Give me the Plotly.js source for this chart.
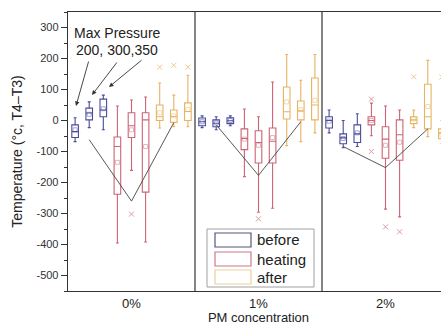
<!DOCTYPE html>
<html>
<head>
<meta charset="utf-8">
<script src="https://cdn.plot.ly/plotly-3.0.1.min.js"></script>
<style>
html,body{margin:0;padding:0;overflow:hidden;background:#fff;}
#chart{width:470px;height:325px;}
</style>
</head>
<body>
<div id="chart"></div>
<script>
// ---- data ----
const groups = ['0%', '1%', '2%'];
const pressures = [200, 300, 350];
const states = ['before', 'heating', 'after'];
// order: [0%-200, 0%-300, 0%-350, 1%-200, 1%-300, 1%-350, 2%-200, 2%-300, 2%-350]
const beforeQ1   = [-55, 2, 12, -17, -20, -10, -24, -75, -71];
const beforeMed  = [-36, 24, 34, -4, -9, -1, 0, -56, -43];
const beforeQ3   = [-14, 40, 69, 8, 2, 9, 12, -43, -14];
const beforeLo   = [-68, -23, -30, -23, -30, -17, -40, -88, -84];
const beforeHi   = [9, 60, 82, 15, 12, 15, 34, 0, 22];
const beforeMean = [-30, 20, 38, -4, -8, 0, -2, -58, -40];

const heatingQ1   = [-238, -55, -231, -94, -137, -137, -14, -122, -128];
const heatingMed  = [-84, -17, 2, -58, -71, -67, 0, -60, -46];
const heatingQ3   = [-53, 25, 25, -27, -33, -24, 12, -20, 2];
const heatingLo   = [-395, -161, -392, -181, -296, -283, -49, -286, -311];
const heatingHi   = [47, 66, 76, 37, 12, 124, 56, 47, 34];
const heatingMean = [-135, -30, -84, -60, -80, -55, 0, -80, -70];
const heatingOutIdx = [1, 4, 6, 6, 7, 8];
const heatingOutVal = [-302, -317, 69, -100, -343, -359];

const afterQ1   = [0, -6, 0, 5, 2, 2, -10, -27, -59];
const afterMed  = [12, 13, 29, 28, 31, 50, 2, 12, -40];
const afterQ3   = [50, 34, 57, 108, 63, 137, 12, 117, -27];
const afterLo   = [-24, -20, -20, -81, -68, -40, -23, -52, -75];
const afterHi   = [121, 82, 146, 213, 130, 213, 34, 194, 0];
const afterMean = [25, 15, 35, 60, 35, 65, 5, 45, -45];
const afterOutIdx = [0, 1, 2, 6, 8];
const afterOutVal = [172, 178, 172, 141, 140];

// V-shaped guide lines (start near before-300, vertex at heating-300, end at after-300)
const guideStartY  = [-62, -14, -84];
const guideVertexY = [-260, -177, -152];
const guideEndY    = [-7, -4, -27];

const yTicks = [-500, -400, -300, -200, -100, 0, 100, 200, 300];

// ---- styling ----
const colors = {before: '#4b4b9c', heating: '#cc6476', after: '#e6b462'};
const outColors = {heating: '#e09aa6', after: '#efc98e'};
const step = 0.111;
function xPos(stateIdx, i) {
  const g = Math.floor(i / 3), p = i % 3;
  return g + 0.5 + (stateIdx * 3 + p - 4) * step;
}

const stats = {
  before:  {q1: beforeQ1, med: beforeMed, q3: beforeQ3, lo: beforeLo, hi: beforeHi, mean: beforeMean},
  heating: {q1: heatingQ1, med: heatingMed, q3: heatingQ3, lo: heatingLo, hi: heatingHi, mean: heatingMean,
            outIdx: heatingOutIdx, outVal: heatingOutVal},
  after:   {q1: afterQ1, med: afterMed, q3: afterQ3, lo: afterLo, hi: afterHi, mean: afterMean,
            outIdx: afterOutIdx, outVal: afterOutVal}
};

const traces = [];
states.forEach((s, si) => {
  const d = stats[s];
  const xs = d.q1.map((_, i) => xPos(si, i));
  traces.push({
    type: 'box', name: s, x: xs,
    q1: d.q1, median: d.med, q3: d.q3, lowerfence: d.lo, upperfence: d.hi,
    width: 0.052, whiskerwidth: 0.45,
    line: {color: colors[s], width: 1.1},
    fillcolor: 'rgba(255,255,255,0)',
    showlegend: false, hoverinfo: 'skip'
  });
  traces.push({
    type: 'scatter', mode: 'markers', x: xs, y: d.mean,
    marker: {symbol: 'square-open', size: 4, color: colors[s], line: {width: 0.8, color: colors[s]}},
    opacity: 0.6, showlegend: false, hoverinfo: 'skip'
  });
  if (d.outIdx) {
    traces.push({
      type: 'scatter', mode: 'markers',
      x: d.outIdx.map(i => xPos(si, i)), y: d.outVal,
      marker: {symbol: 'x-thin-open', size: 5, color: outColors[s], line: {width: 1, color: outColors[s]}},
      showlegend: false, hoverinfo: 'skip'
    });
  }
});

// guide lines
groups.forEach((g, gi) => {
  traces.push({
    type: 'scatter', mode: 'lines',
    x: [xPos(0, gi * 3 + 1), xPos(1, gi * 3 + 1), xPos(2, gi * 3 + 1)],
    y: [guideStartY[gi], guideVertexY[gi], guideEndY[gi]],
    line: {color: '#444', width: 0.9},
    showlegend: false, hoverinfo: 'skip'
  });
});

// pixel helpers for legend placement
const L = 68, T = 12, PW = 381, PH = 279;
const pxX = px => (px - L) / PW;
const pxY = py => (T + PH - py) / PH;

const shapes = [
  {type: 'line', xref: 'x', yref: 'paper', x0: 1, x1: 1, y0: 0, y1: 1, line: {color: '#333', width: 1.2}},
  {type: 'line', xref: 'x', yref: 'paper', x0: 2, x1: 2, y0: 0, y1: 1, line: {color: '#333', width: 1.2}},
  {type: 'rect', xref: 'paper', yref: 'paper', x0: pxX(207), x1: pxX(314), y0: pxY(287), y1: pxY(229),
   line: {color: '#a0a0a0', width: 1}, fillcolor: '#fff', layer: 'above'}
];
const legendRows = [233, 252, 270];
const legendEdge = {before: '#55557a', heating: '#d0788a', after: '#ead39a'};
states.forEach((s, i) => {
  shapes.push({type: 'rect', xref: 'paper', yref: 'paper',
    x0: pxX(215), x1: pxX(251), y0: pxY(legendRows[i] + 14), y1: pxY(legendRows[i]),
    line: {color: legendEdge[s], width: 1.2}, fillcolor: '#fff', layer: 'above'});
});

const font = 'Liberation Sans, Arial, sans-serif';
const annotations = [
  {text: 'Max Pressure', x: pxX(117), y: pxY(33), xref: 'paper', yref: 'paper', showarrow: false,
   xanchor: 'center', yanchor: 'middle', font: {family: font, size: 14, color: '#222'}},
  {text: '200, 300,350', x: pxX(117), y: pxY(50), xref: 'paper', yref: 'paper', showarrow: false,
   xanchor: 'center', yanchor: 'middle', font: {family: font, size: 14, color: '#222'}},
  {x: pxX(76), y: pxY(106), xref: 'paper', yref: 'paper', ax: 13, ay: -46, text: '', showarrow: true,
   arrowhead: 2, arrowsize: 1, arrowwidth: 0.9, arrowcolor: '#333'},
  {x: pxX(92), y: pxY(95), xref: 'paper', yref: 'paper', ax: 26, ay: -34, text: '', showarrow: true,
   arrowhead: 2, arrowsize: 1, arrowwidth: 0.9, arrowcolor: '#333'},
  {x: pxX(109), y: pxY(87), xref: 'paper', yref: 'paper', ax: 34, ay: -28, text: '', showarrow: true,
   arrowhead: 2, arrowsize: 1, arrowwidth: 0.9, arrowcolor: '#333'}
];
states.forEach((s, i) => {
  annotations.push({text: s, x: pxX(255), y: pxY(legendRows[i] + 7), xref: 'paper', yref: 'paper',
    xanchor: 'left', yanchor: 'middle', showarrow: false,
    font: {family: font, size: 15, color: '#222'}});
});

const layout = {
  width: 470, height: 325,
  margin: {l: L, r: 470 - L - PW, t: T, b: 325 - T - PH},
  paper_bgcolor: '#fff', plot_bgcolor: '#fff',
  font: {family: font, color: '#333'},
  showlegend: false,
  xaxis: {
    range: [0, 3], tickvals: groups.map((_, i) => i + 0.5), ticktext: groups,
    ticks: '', showgrid: false, zeroline: false,
    showline: true, mirror: true, linecolor: '#333', linewidth: 1.3,
    tickfont: {family: font, size: 13, color: '#222'},
    title: {text: 'PM concentration', font: {family: font, size: 13, color: '#222'}, standoff: 2}
  },
  yaxis: {
    range: [-550, 350], tickvals: yTicks, ticktext: yTicks.map(String),
    ticks: 'outside', ticklen: 6, tickwidth: 1, tickcolor: '#333',
    minor: {dtick: 50, ticks: 'outside', ticklen: 3, tickcolor: '#333', showgrid: false},
    showgrid: false, zeroline: false,
    showline: true, mirror: true, linecolor: '#333', linewidth: 1.3,
    tickfont: {family: font, size: 11, color: '#333'},
    title: {text: 'Temperature (°c, T4–T3)', font: {family: font, size: 14, color: '#222'}, standoff: 10}
  },
  shapes: shapes,
  annotations: annotations
};

Plotly.newPlot('chart', traces, layout, {staticPlot: true, displayModeBar: false});
</script>
</body>
</html>
